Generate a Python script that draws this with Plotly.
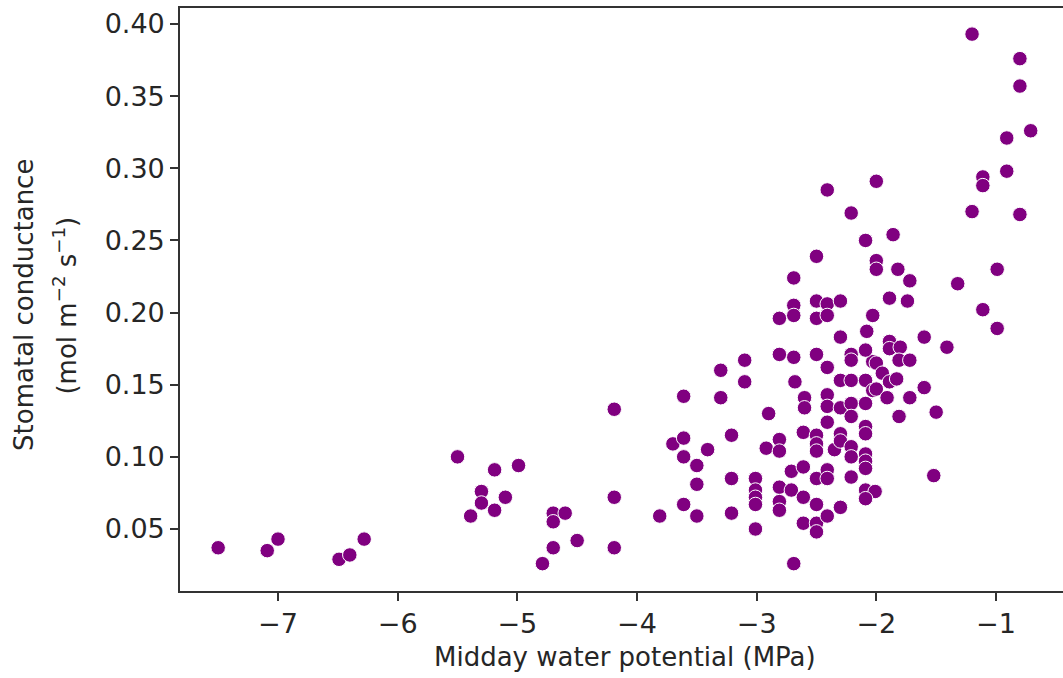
import plotly.graph_objects as go

# Midday leaf water potential (MPa) and stomatal conductance (mol m-2 s-1)
water_potential = [
    -7.50, -7.09, -7.00, -6.49, -6.40, -6.28,
    -5.50, -5.30, -5.30, -5.39, -5.19, -4.99, -5.10, -5.19,
    -4.70, -4.70, -4.60, -4.70, -4.50, -4.79,
    -4.19, -4.19, -4.19,
    -3.81,
    -3.61, -3.30, -3.70, -3.61, -3.61, -3.41, -3.50, -3.50, -3.61, -3.50,
    -3.21, -3.21, -3.21,
    -3.30, -3.10, -3.10,
    -2.90, -2.92, -2.81, -2.81,
    -3.01, -3.01, -3.01, -3.01, -3.01,
    -2.81, -2.81, -2.81, -2.71, -2.71, -2.61, -2.61, -2.61, -2.69,
    -2.50, -2.50, -2.50, -2.50, -2.41, -2.41, -2.41, -2.30,
    -2.21, -2.09, -2.01, -2.09,
    -2.61, -2.50, -2.50, -2.50, -2.35, -2.30, -2.30, -2.21, -2.21,
    -2.09, -2.09, -2.09, -2.09, -2.09,
    -2.81, -2.69, -2.50, -2.41, -2.03, -2.68, -2.60, -2.60,
    -2.41, -2.41, -2.41, -2.30, -2.21, -2.09, -2.30, -2.21, -2.09, -2.21, -2.03,
    -2.69, -2.69, -2.69, -2.81, -2.50, -2.50, -2.41, -2.41, -2.30, -2.03,
    -2.30, -2.08, -2.09, -2.21, -2.21,
    -2.41, -2.00, -2.21, -2.09, -1.86, -2.50, -2.00, -2.00, -1.82, -1.89,
    -1.72, -1.74, -1.32, -0.99, -1.11, -0.99,
    -1.89, -1.89, -1.80, -1.81, -1.72, -1.60, -1.41,
    -2.00, -1.95, -1.89, -1.83, -2.00, -1.91, -1.72, -1.60,
    -1.81, -1.50, -1.52,
    -1.20, -0.80, -0.80, -0.71, -0.91, -0.91, -1.11, -1.11, -1.20, -0.80,
]

conductance = [
    0.037, 0.035, 0.043, 0.029, 0.032, 0.043,
    0.100, 0.076, 0.068, 0.059, 0.091, 0.094, 0.072, 0.063,
    0.061, 0.055, 0.061, 0.037, 0.042, 0.026,
    0.133, 0.072, 0.037,
    0.059,
    0.142, 0.141, 0.109, 0.113, 0.100, 0.105, 0.094, 0.081, 0.067, 0.059,
    0.115, 0.085, 0.061,
    0.160, 0.167, 0.152,
    0.130, 0.106, 0.112, 0.104,
    0.085, 0.077, 0.072, 0.067, 0.050,
    0.079, 0.069, 0.063, 0.077, 0.090, 0.093, 0.072, 0.054, 0.026,
    0.067, 0.054, 0.048, 0.085, 0.091, 0.085, 0.059, 0.065,
    0.086, 0.077, 0.076, 0.071,
    0.117, 0.115, 0.109, 0.104, 0.105, 0.116, 0.111, 0.107, 0.100,
    0.121, 0.116, 0.102, 0.097, 0.092,
    0.171, 0.169, 0.171, 0.162, 0.166, 0.152, 0.141, 0.134,
    0.143, 0.135, 0.124, 0.153, 0.153, 0.153, 0.134, 0.137, 0.137, 0.128, 0.146,
    0.224, 0.205, 0.198, 0.196, 0.208, 0.196, 0.206, 0.198, 0.208, 0.198,
    0.183, 0.187, 0.174, 0.171, 0.167,
    0.285, 0.291, 0.269, 0.250, 0.254, 0.239, 0.236, 0.230, 0.230, 0.210,
    0.222, 0.208, 0.220, 0.230, 0.202, 0.189,
    0.180, 0.175, 0.176, 0.167, 0.167, 0.183, 0.176,
    0.165, 0.158, 0.152, 0.154, 0.147, 0.141, 0.141, 0.148,
    0.128, 0.131, 0.087,
    0.393, 0.376, 0.357, 0.326, 0.321, 0.298, 0.294, 0.288, 0.270, 0.268,
]

x_ticks = [-7, -6, -5, -4, -3, -2, -1]
y_ticks = [0.05, 0.10, 0.15, 0.20, 0.25, 0.30, 0.35, 0.40]

FONT = "DejaVu Sans"
TEXT = "#262626"
AXIS = "#333333"
TICK_SIZE = 27
LABEL_SIZE = 26

fig = go.Figure(
    go.Scatter(
        x=water_potential,
        y=conductance,
        mode="markers",
        marker=dict(color="#800080", size=14.5,
                    line=dict(color="white", width=1)),
        hoverinfo="x+y",
    )
)

fig.update_layout(
    width=1063,
    height=678,
    margin=dict(l=180, r=0, t=8, b=87),
    paper_bgcolor="white",
    plot_bgcolor="white",
    showlegend=False,
    font=dict(family=FONT, size=LABEL_SIZE, color=TEXT),
)

fig.update_xaxes(
    range=[-7.819, -0.44],
    tickvals=x_ticks,
    ticktext=["\u2212" + str(abs(v)) for v in x_ticks],
    showgrid=False,
    zeroline=False,
    showline=True,
    linecolor=AXIS,
    linewidth=1.6,
    mirror=True,
    ticks="outside",
    ticklen=8,
    tickwidth=1.5,
    tickcolor=AXIS,
    tickfont=dict(family=FONT, size=TICK_SIZE, color=TEXT),
)

fig.update_yaxes(
    range=[0.00703, 0.4111],
    tickvals=y_ticks,
    ticktext=[f"{v:.2f}" for v in y_ticks],
    showgrid=False,
    zeroline=False,
    showline=True,
    linecolor=AXIS,
    linewidth=1.6,
    mirror=False,
    ticks="outside",
    ticklen=8,
    tickwidth=1.5,
    tickcolor=AXIS,
    tickfont=dict(family=FONT, size=TICK_SIZE, color=TEXT),
)

# Axis titles
fig.add_annotation(
    text="Midday water potential (MPa)",
    xref="paper", yref="paper", x=0.504, y=-0.113,
    xanchor="center", yanchor="middle", showarrow=False,
    font=dict(family=FONT, size=LABEL_SIZE, color=TEXT),
)
fig.add_annotation(
    text="Stomatal conductance",
    xref="paper", yref="paper", x=-0.176, y=0.49,
    xanchor="center", yanchor="middle", textangle=-90, showarrow=False,
    font=dict(family=FONT, size=LABEL_SIZE, color=TEXT),
)
fig.add_annotation(
    text="(mol m<sup>\u22122</sup> s<sup>\u22121</sup>)",
    xref="paper", yref="paper", x=-0.13, y=0.49,
    xanchor="center", yanchor="middle", textangle=-90, showarrow=False,
    font=dict(family=FONT, size=LABEL_SIZE, color=TEXT),
)

fig.write_html("out.html")
